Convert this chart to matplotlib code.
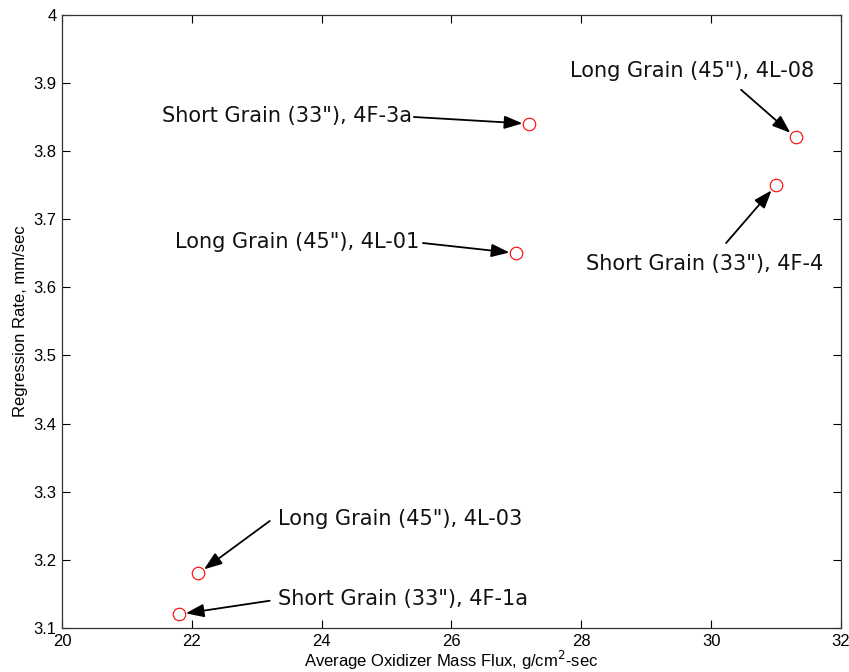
import matplotlib
matplotlib.use("Agg")
import matplotlib.pyplot as plt

# measured points: oxidizer mass flux vs regression rate
flux = [21.8, 22.1, 27.0, 27.2, 31.0, 31.3]
rate = [3.12, 3.18, 3.65, 3.84, 3.75, 3.82]
labels = ['Short Grain (33"), 4F-1a', 'Long Grain (45"), 4L-03',
          'Long Grain (45"), 4L-01', 'Short Grain (33"), 4F-3a',
          'Short Grain (33"), 4F-4', 'Long Grain (45"), 4L-08']

# label placement (x, y, ha) and arrow tail, in data units
label_pos = [(23.33, 3.143, 'left'), (23.33, 3.260, 'left'),
             (25.51, 3.666, 'right'), (25.39, 3.852, 'right'),
             (28.07, 3.634, 'left'), (27.82, 3.917, 'left')]
tail_pos = [(23.20, 3.140), (23.20, 3.257), (25.56, 3.665),
            (25.42, 3.850), (30.23, 3.665), (30.46, 3.890)]

fig = plt.figure(figsize=(8.49, 6.72), dpi=100)
ax = fig.add_axes([0.073, 0.0655, 0.9176, 0.9125])

ax.plot(flux, rate, 'o', mfc='none', mec='red', ms=9, mew=0.8, ls='none')

for i in range(len(flux)):
    ax.annotate('', xy=(flux[i], rate[i]), xytext=tail_pos[i],
                arrowprops=dict(arrowstyle='-|>,head_length=0.55,head_width=0.2',
                                mutation_scale=20, color='k', lw=1.3,
                                shrinkA=0, shrinkB=5))
    lx, ly, ha = label_pos[i]
    ax.text(lx, ly, labels[i], ha=ha, va='center', fontsize=15,
            family='DejaVu Sans', color='#111111')

ax.set_xlim(20, 32)
ax.set_ylim(3.1, 4.0)
ax.set_xticks([20, 22, 24, 26, 28, 30, 32])
ax.set_yticks([3.1, 3.2, 3.3, 3.4, 3.5, 3.6, 3.7, 3.8, 3.9, 4.0])
ax.set_yticklabels(['3.1', '3.2', '3.3', '3.4', '3.5', '3.6', '3.7', '3.8', '3.9', '4'])
ax.tick_params(direction='in', top=True, right=True, length=6, width=0.8,
               labelsize=12, pad=4)
for t in ax.get_xticklabels() + ax.get_yticklabels():
    t.set_family('Liberation Sans')
for s in ax.spines.values():
    s.set_linewidth(0.9)
    s.set_color('#333333')

ax.set_xlabel('Average Oxidizer Mass Flux, g/cm$^2$-sec', fontsize=12,
              family='Liberation Sans', labelpad=0)
ax.set_ylabel('Regression Rate, mm/sec', fontsize=12,
              family='Liberation Sans', labelpad=4)

fig.savefig('out.png', dpi=100)
